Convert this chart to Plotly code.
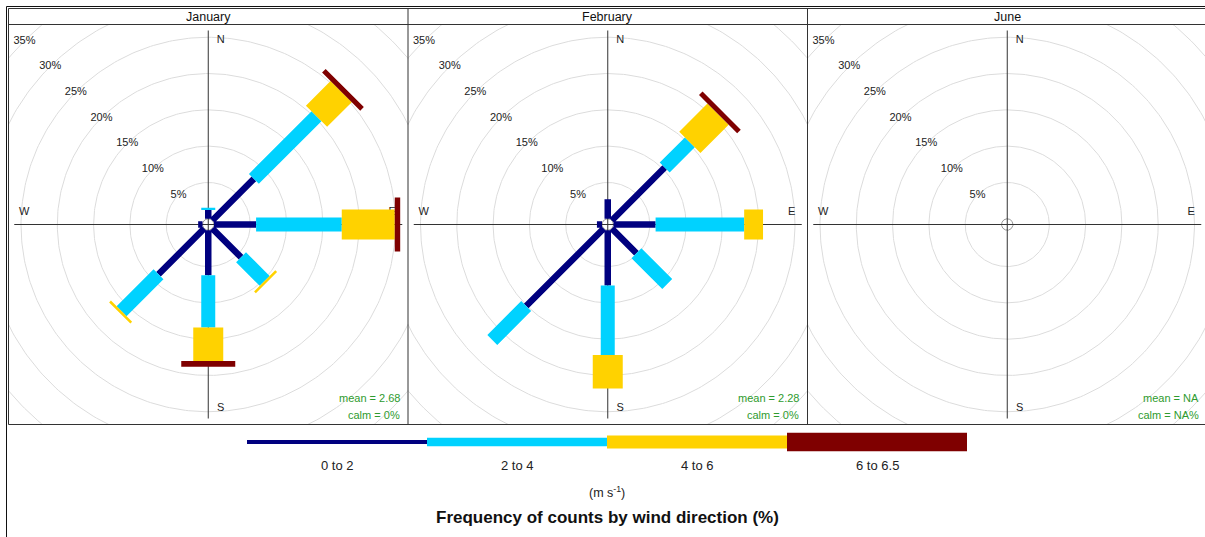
import numpy as np
import plotly.graph_objects as go

# ---- data -------------------------------------------------------------
months = ["January", "February", "June"]
directions = [0, 45, 90, 135, 180, 225, 270, 315]          # degrees from north
speed_bins = ["0 to 2", "2 to 4", "4 to 6", "6 to 6.5"]
bin_colours = ["#00007F", "#00D2FF", "#FFD200", "#7F0000"]

# frequency of counts (%) per direction, one list per speed bin
jan_0_2 = [1.2, 8.1, 5.8, 5.6, 6.2, 8.9, 0.6, 0.0]
jan_2_4 = [0.3, 12.2, 11.8, 4.6, 7.2, 7.2, 0.0, 0.0]
jan_4_6 = [0.0, 4.8, 7.3, 0.35, 4.6, 0.35, 0.0, 0.0]
jan_6_65 = [0.0, 0.7, 0.75, 0.0, 0.8, 0.0, 0.0, 0.0]

feb_0_2 = [2.7, 10.3, 5.8, 4.8, 7.6, 15.1, 0.7, 0.0]
feb_2_4 = [0.0, 4.9, 12.2, 6.0, 9.6, 6.6, 0.0, 0.0]
feb_4_6 = [0.0, 5.5, 2.6, 0.0, 4.6, 0.0, 0.0, 0.0]
feb_6_65 = [0.0, 0.7, 0.0, 0.0, 0.0, 0.0, 0.0, 0.0]

jun_0_2 = [0.0] * 8
jun_2_4 = [0.0] * 8
jun_4_6 = [0.0] * 8
jun_6_65 = [0.0] * 8

month_freqs = [
    [jan_0_2, jan_2_4, jan_4_6, jan_6_65],
    [feb_0_2, feb_2_4, feb_4_6, feb_6_65],
    [jun_0_2, jun_2_4, jun_4_6, jun_6_65],
]
mean_speed = ["2.68", "2.28", "NA"]
calm_pct = ["0", "0", "NA"]
ring_pct = [5, 10, 15, 20, 25, 30, 35]
compass_labels = ["N", "E", "S", "W"]
compass_angles = [0, 90, 180, 270]

# ---- geometry / style -----------------------------------------------
W, H = 1205, 537
SCALE = 7.26            # pixels per percent
OFFSET = 0.79           # radial offset of the calm circle (percent units)
PADDLE_PX = [6.5, 14, 30, 54]
KEY_PX = [4, 8.5, 13, 18.5]
panel_left = [8.5, 408.0, 807.5]
panel_w = 399.5
panel_top, strip_top, panel_bottom = 24.5, 8.5, 424.5
cy_px = (panel_top + panel_bottom) / 2

FONT = "Liberation Sans, Arial, sans-serif"
NARROW = "Liberation Sans Narrow, Arial Narrow, Liberation Sans, Arial, sans-serif"
LINE = "#333333"


def px_x(px):
    return px / W


def px_y(py):
    return 1 - py / H


def note(x, y, text, size, color="#222", family=FONT, xanchor="center",
         xref="paper"):
    return dict(x=x, y=px_y(y), xref=xref, yref="paper", text=text,
                showarrow=False, xanchor=xanchor, yanchor="middle",
                font=dict(family=family, size=size, color=color))


fig = go.Figure()
layout = {}

for i, month in enumerate(months):
    n = "" if i == 0 else str(i + 1)
    xa, ya = "x" + n, "y" + n
    left = panel_left[i]
    right = min(left + panel_w, W)
    cx_px = panel_left[i] + panel_w / 2
    layout["xaxis" + n] = dict(
        domain=[px_x(left), px_x(right)],
        range=[(left - cx_px) / SCALE, (right - cx_px) / SCALE],
        visible=False, fixedrange=True, anchor=ya,
    )
    layout["yaxis" + n] = dict(
        domain=[px_y(panel_bottom), px_y(panel_top)],
        range=[-(panel_bottom - cy_px) / SCALE, (cy_px - panel_top) / SCALE],
        visible=False, fixedrange=True, anchor=xa,
    )

    # concentric frequency rings
    t = np.linspace(0, 2 * np.pi, 361)
    rx, ry = [], []
    for p in ring_pct:
        r = OFFSET + p
        rx += list(r * np.cos(t)) + [None]
        ry += list(r * np.sin(t)) + [None]
    fig.add_trace(go.Scatter(x=rx, y=ry, mode="lines", xaxis=xa, yaxis=ya,
                             line=dict(color="#DCDCDC", width=1),
                             hoverinfo="skip", showlegend=False))
    # calm circle
    fig.add_trace(go.Scatter(x=OFFSET * np.cos(t), y=OFFSET * np.sin(t),
                             mode="lines", xaxis=xa, yaxis=ya,
                             line=dict(color="#999999", width=1),
                             hoverinfo="skip", showlegend=False))
    # compass cross
    L = 194 / SCALE
    fig.add_trace(go.Scatter(x=[0, 0, None, -L, L], y=[L, -L, None, 0, 0],
                             mode="lines", xaxis=xa, yaxis=ya,
                             line=dict(color=LINE, width=1),
                             hoverinfo="skip", showlegend=False))
    # compass letters
    R = 184 / SCALE
    sh = 12.5 / SCALE
    lx, ly = [], []
    for a in compass_angles:
        th = np.deg2rad(a)
        x, y = R * np.sin(th), R * np.cos(th)
        if a in (0, 180):
            x += sh
        else:
            y += sh
        lx.append(x)
        ly.append(y)
    fig.add_trace(go.Scatter(x=lx, y=ly, mode="text", text=compass_labels,
                             xaxis=xa, yaxis=ya, cliponaxis=False,
                             textfont=dict(family=FONT, size=11, color="#222"),
                             hoverinfo="skip", showlegend=False))
    # ring percentage labels along the north-west diagonal
    pr = [(OFFSET + p) / np.sqrt(2) for p in ring_pct]
    fig.add_trace(go.Scatter(x=[-v for v in pr], y=pr, mode="text",
                             text=[f"{p}%" for p in ring_pct],
                             xaxis=xa, yaxis=ya, cliponaxis=False,
                             textfont=dict(family=FONT, size=11, color="#222"),
                             hoverinfo="skip", showlegend=False))

    # paddles: one filled trace per speed bin
    freqs = np.array(month_freqs[i])
    cum = np.cumsum(freqs, axis=0)
    for j, colour in enumerate(bin_colours):
        half = PADDLE_PX[j] / 2 / SCALE
        px_, py_ = [], []
        for k, d in enumerate(directions):
            if freqs[j][k] <= 0:
                continue
            r0 = OFFSET + (cum[j - 1][k] if j > 0 else 0.0)
            r1 = OFFSET + cum[j][k]
            th = np.deg2rad(d)
            ux, uy = np.sin(th), np.cos(th)
            vx, vy = np.cos(th), -np.sin(th)
            pts = [(r0 * ux - half * vx, r0 * uy - half * vy),
                   (r1 * ux - half * vx, r1 * uy - half * vy),
                   (r1 * ux + half * vx, r1 * uy + half * vy),
                   (r0 * ux + half * vx, r0 * uy + half * vy),
                   (r0 * ux - half * vx, r0 * uy - half * vy)]
            px_ += [p[0] for p in pts] + [None]
            py_ += [p[1] for p in pts] + [None]
        if px_:
            fig.add_trace(go.Scatter(x=px_, y=py_, mode="lines", fill="toself",
                                     fillcolor=colour, line=dict(width=0),
                                     xaxis=xa, yaxis=ya, name=speed_bins[j],
                                     hoverinfo="skip", showlegend=False))

# ---- colour key -------------------------------------------------------
key_left, key_right, key_cy = 247.0, 967.0, 442.0
layout["xaxis4"] = dict(domain=[px_x(key_left), px_x(key_right)],
                        range=[0, len(speed_bins)], visible=False,
                        fixedrange=True, anchor="y4")
layout["yaxis4"] = dict(domain=[px_y(key_cy + 15), px_y(key_cy - 15)],
                        range=[-15, 15], visible=False, fixedrange=True,
                        anchor="x4")
for j, colour in enumerate(bin_colours):
    fig.add_trace(go.Scatter(x=[j, j + 1], y=[0, 0], mode="lines",
                             xaxis="x4", yaxis="y4",
                             line=dict(color=colour, width=KEY_PX[j]),
                             hoverinfo="skip", showlegend=False))

annotations = []
for j, lab in enumerate(speed_bins):
    annotations.append(note(j + 0.5, 465.5, lab, 13, family=NARROW, xref="x4"))
annotations.append(note(px_x(607), 492, "(m s<sup>-1</sup>)", 12.5,
                        family=NARROW))
annotations.append(note(px_x(607), 517,
                        "<b>Frequency of counts by wind direction (%)</b>",
                        17, color="#111", family=NARROW))

# ---- strips, summary text, frames --------------------------------------
shapes = []
for i, month in enumerate(months):
    left = panel_left[i]
    cx_px = left + panel_w / 2
    annotations.append(note(px_x(cx_px), 17, month, 12.5, color="#111"))
    rx_px = min(left + panel_w - 6.5, W - 3)
    annotations.append(note(px_x(rx_px), 398, f"mean = {mean_speed[i]}", 11,
                            color="#2E9B2E", xanchor="right"))
    annotations.append(note(px_x(rx_px), 415, f"calm = {calm_pct[i]}%", 11,
                            color="#2E9B2E", xanchor="right"))
    if i > 0:
        shapes.append(dict(type="line", xref="paper", yref="paper",
                           x0=px_x(left), x1=px_x(left),
                           y0=px_y(strip_top), y1=px_y(panel_bottom),
                           line=dict(color=LINE, width=1)))

# panel frame, strip base line and the outer border
shapes.append(dict(type="rect", xref="paper", yref="paper",
                   x0=px_x(8.5), x1=px_x(1210), y0=px_y(panel_bottom),
                   y1=px_y(strip_top), line=dict(color=LINE, width=1)))
shapes.append(dict(type="line", xref="paper", yref="paper",
                   x0=px_x(8.5), x1=px_x(1210), y0=px_y(panel_top),
                   y1=px_y(panel_top), line=dict(color=LINE, width=1)))
shapes.append(dict(type="line", xref="paper", yref="paper",
                   x0=px_x(6.5), x1=px_x(6.5), y0=px_y(6.5), y1=px_y(540),
                   line=dict(color="#111", width=1)))
shapes.append(dict(type="line", xref="paper", yref="paper",
                   x0=px_x(6.5), x1=px_x(1210), y0=px_y(6.5), y1=px_y(6.5),
                   line=dict(color="#111", width=1)))

fig.update_layout(
    width=W, height=H,
    margin=dict(l=0, r=0, t=0, b=0, pad=0),
    paper_bgcolor="white", plot_bgcolor="white",
    showlegend=False,
    annotations=annotations,
    shapes=shapes,
    **layout,
)

fig.write_html("out.html", config={"displayModeBar": False})
